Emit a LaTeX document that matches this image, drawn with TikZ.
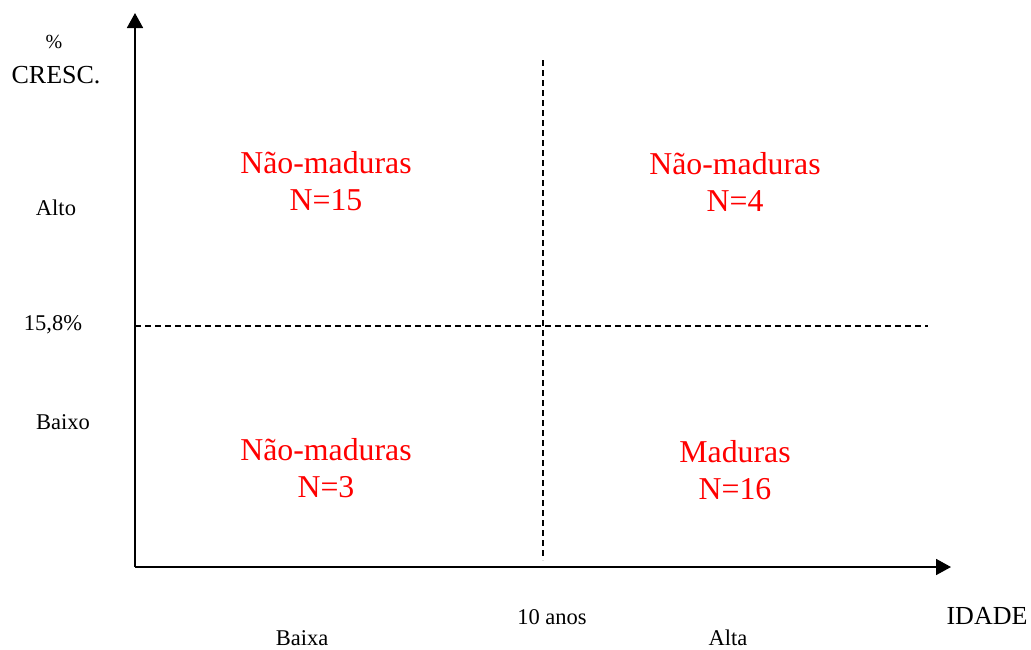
\documentclass[tikz,border=0pt]{standalone}
\usepackage{fontspec}
\setmainfont{Liberation Serif}
\usetikzlibrary{arrows.meta}
\tikzset{
  axis/.style={line width=1.8pt,-{Triangle[length=15pt,width=16pt]}},
  divider/.style={line width=1.3pt,dash pattern=on 6pt off 4pt},
  lbl/.style={inner sep=0pt,font=\fontsize{22.5}{26}\selectfont},
  big/.style={inner sep=0pt,font=\fontsize{26}{30}\selectfont},
  quad/.style={inner sep=0pt,text=red,align=center,font=\fontsize{31.8}{37}\selectfont}
}
\begin{document}
\begin{tikzpicture}[x=1pt,y=-1pt]
\useasboundingbox (0,0) rectangle (1031,649);
\coordinate (O) at (135,567);
\coordinate (ytop) at (135,13);
\coordinate (xend) at (951,567);
\coordinate (vtop) at (543,60);
\coordinate (vbot) at (543,560);
\coordinate (hl) at (135,326);
\coordinate (hr) at (928,326);
\draw[divider] (vtop) -- (vbot);
\draw[divider] (hl) -- (hr);
\draw[axis] (O) -- (ytop);
\draw[axis] (O) -- (xend);
\node[inner sep=0pt,font=\fontsize{20}{24}\selectfont] (pct) at (54,42) {\%};
\node[big] (cresc) at (56,75) {CRESC.};
\node[lbl] (alto) at (56,208) {Alto};
\node[lbl] (thr) at (53,325) {15,8\%};
\node[lbl] (baixo) at (63,422) {Baixo};
\node[quad] (q1) at (326,181.5) {Não-maduras\\N=15};
\node[quad] (q2) at (735,181.5) {Não-maduras\\N=4};
\node[quad] (q3) at (326,468) {Não-maduras\\N=3};
\node[quad] (q4) at (735,470.5) {Maduras\\N=16};
\node[lbl] (anos) at (552,617) {10 anos};
\node[big] (idade) at (987,616) {IDADE};
\node[lbl] (baixa) at (302,638) {Baixa};
\node[lbl] (alta) at (728,638) {Alta};
\end{tikzpicture}
\end{document}
